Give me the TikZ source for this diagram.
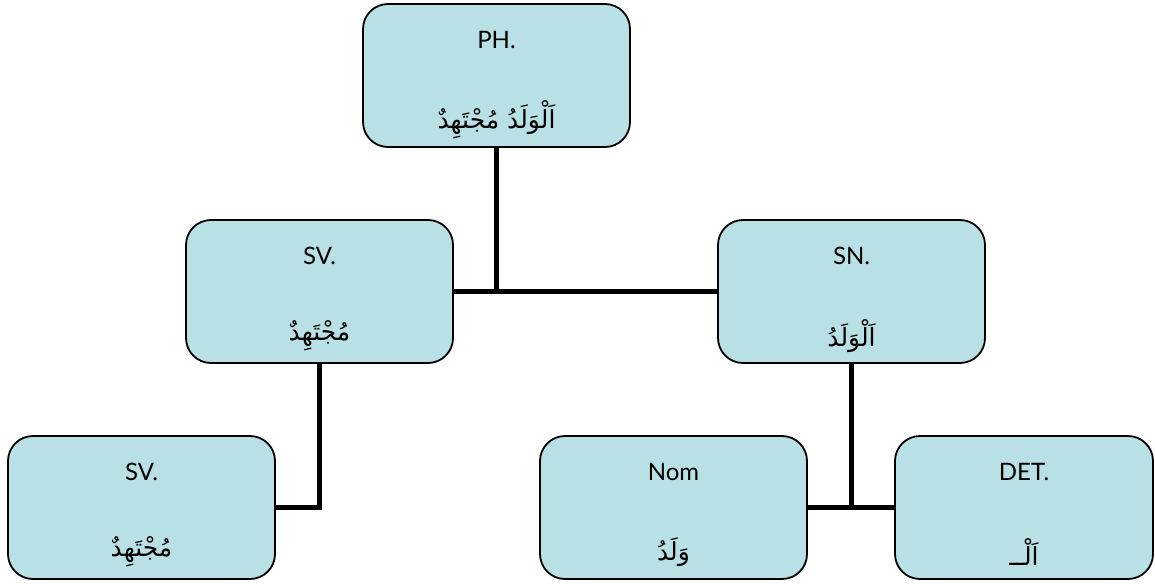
\documentclass[tikz,border=0pt]{standalone}
\usepackage{fontspec}
\setmainfont{Lato}
\newfontfamily\arabicfont[Script=Arabic]{DejaVu Sans}
\TeXXeTstate=1
\usetikzlibrary{backgrounds}
\definecolor{boxfill}{RGB}{185,224,228}
\tikzset{
  tbox/.style={draw, line width=1.8pt, rounded corners=25pt, fill=boxfill,
    minimum width=267pt, minimum height=143pt, inner sep=0pt},
  tlab/.style={font=\fontsize{24}{28}\selectfont},
  tarab/.style={font=\arabicfont\fontsize{25}{30}\selectfont},
  tlink/.style={line width=5pt}
}
\begin{document}
\begin{tikzpicture}[x=1pt,y=-1pt]
\useasboundingbox (0,0) rectangle (1155,583);
% boxes
\node[tbox] (ph) at (496.5,75.5){};
\node[tbox] (sv) at (319.5,291.5){};
\node[tbox] (sn) at (851.5,291.5){};
\node[tbox] (svb) at (141.5,507.5){};
\node[tbox] (nom) at (673.5,507.5){};
\node[tbox, minimum width=258pt] (det) at (1024,507.5){};
% texts
\node[tlab] (ph-lab) at (496.5,40){PH.};
\node[tarab] (ph-ar) at (496.5,120){\beginR اَلْوَلَدُ مُجْتَهِدٌ\endR};
\node[tlab] (sv-lab) at (319.5,256){SV.};
\node[tarab] (sv-ar) at (319.5,336){\beginR مُجْتَهِدٌ\endR};
\node[tlab] (sn-lab) at (851.5,256){SN.};
\node[tarab] (sn-ar) at (851.5,336){\beginR اَلْوَلَدُ\endR};
\node[tlab] (svb-lab) at (141.5,472){SV.};
\node[tarab] (svb-ar) at (141.5,552){\beginR مُجْتَهِدٌ\endR};
\node[tlab] (nom-lab) at (673.5,472){Nom};
\node[tarab] (nom-ar) at (673.5,552){\beginR وَلَدُ\endR};
\node[tlab] (det-lab) at (1024,472){DET.};
\node[tarab] (det-ar) at (1024,552){\beginR اَلْــ\endR};
% connectors
\begin{pgfonlayer}{background}
\draw[tlink] (ph.south) -- (ph.south |- sv.east);
\draw[tlink] (sv.east) -- (sn.west);
\draw[tlink] (sv.south) -- (sv.south |- svb.east) -- (svb.east);
\draw[tlink] (sn.south) -- (sn.south |- nom.east);
\draw[tlink] (nom.east) -- (det.west);
\end{pgfonlayer}
\end{tikzpicture}
\end{document}
